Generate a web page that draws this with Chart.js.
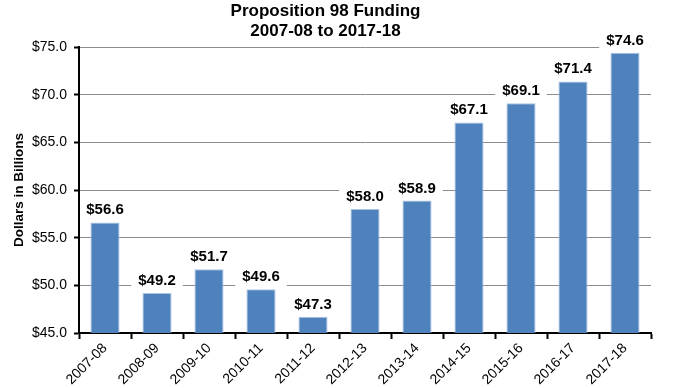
<!DOCTYPE html>
<html>
<head>
<meta charset="utf-8">
<script src="https://cdn.jsdelivr.net/npm/chart.js@4/dist/chart.umd.min.js"></script>
<style>
html,body{margin:0;padding:0;background:#fff;}
#wrap{width:676px;height:388px;}
</style>
</head>
<body>
<div id="wrap"><canvas id="c" width="676" height="388"></canvas></div>
<script>
const categories = ["2007-08","2008-09","2009-10","2010-11","2011-12","2012-13","2013-14","2014-15","2015-16","2016-17","2017-18"];
const values = [56.6, 49.2, 51.7, 49.6, 46.7, 58.0, 58.9, 67.1, 69.1, 71.4, 74.4];
const valueLabels = ["$56.6","$49.2","$51.7","$49.6","$47.3","$58.0","$58.9","$67.1","$69.1","$71.4","$74.6"];
const yTicks = [45, 50, 55, 60, 65, 70, 75];
const titleLines = ["Proposition 98 Funding", "2007-08 to 2017-18"];
const yTitle = "Dollars in Billions";

const FONT = "'Liberation Sans', Arial, sans-serif";

const labelPlugin = {
  id: 'valueLabels',
  afterDatasetsDraw(chart) {
    const ctx = chart.ctx;
    const area = chart.chartArea;
    const meta = chart.getDatasetMeta(0);
    ctx.save();
    ctx.font = "bold 15px " + FONT;
    ctx.textAlign = 'center';
    ctx.textBaseline = 'alphabetic';
    meta.data.forEach((bar, i) => {
      const txt = valueLabels[i];
      const w = ctx.measureText(txt).width;
      const by = bar.y - 8;
      let x0 = bar.x - w/2 - 7, x1 = bar.x + w/2 + 7;
      x0 = Math.max(x0, area.left + 2);
      x1 = Math.min(x1, area.right);
      ctx.fillStyle = '#ffffff';
      ctx.fillRect(x0, by - 14, x1 - x0, 19);
      ctx.fillStyle = '#000000';
      ctx.fillText(txt, bar.x, by);
    });
    ctx.restore();
  }
};

new Chart(document.getElementById('c'), {
  type: 'bar',
  data: {
    labels: categories,
    datasets: [{
      data: values,
      backgroundColor: '#4F81BD',
      borderColor: '#A9C3E3',
      borderWidth: 1,
      barPercentage: 0.56,
      categoryPercentage: 1.0
    }]
  },
  options: {
    responsive: false,
    animation: false,
    devicePixelRatio: 1,
    layout: { padding: { left: 0, right: 25, top: 0, bottom: 0 } },
    plugins: {
      legend: { display: false },
      tooltip: { enabled: false },
      title: {
        display: true,
        text: titleLines,
        color: '#000',
        font: { family: FONT, size: 17, weight: 'bold', lineHeight: 1.15 },
        padding: { top: 2, bottom: 6 }
      }
    },
    scales: {
      x: {
        afterFit(scale) { scale.height = 55; },
        grid: {
          display: true,
          drawOnChartArea: false,
          drawTicks: true,
          tickLength: 6,
          tickColor: '#000',
          tickWidth: 2,
          offset: true
        },
        border: { display: true, color: '#000', width: 2 },
        ticks: {
          color: '#000',
          font: { family: FONT, size: 14 },
          minRotation: 45,
          maxRotation: 45,
          padding: 1
        }
      },
      y: {
        min: 45,
        max: 75,
        afterFit(scale) { scale.width = 79; },
        afterBuildTicks(scale) { scale.ticks = yTicks.map(v => ({ value: v })); },
        grid: {
          color: '#8c8c8c',
          lineWidth: 1,
          drawTicks: true,
          tickLength: 5,
          tickColor: '#000',
          tickWidth: 2
        },
        border: { display: true, color: '#000', width: 2 },
        ticks: {
          color: '#000',
          font: { family: FONT, size: 14 },
          padding: 7,
          callback: v => '$' + Number(v).toFixed(1)
        },
        title: {
          display: true,
          text: yTitle,
          color: '#000',
          font: { family: FONT, size: 13.5, weight: 'bold' },
          padding: { top: 11, bottom: 0 }
        }
      }
    }
  },
  plugins: [labelPlugin]
});
</script>
</body>
</html>
